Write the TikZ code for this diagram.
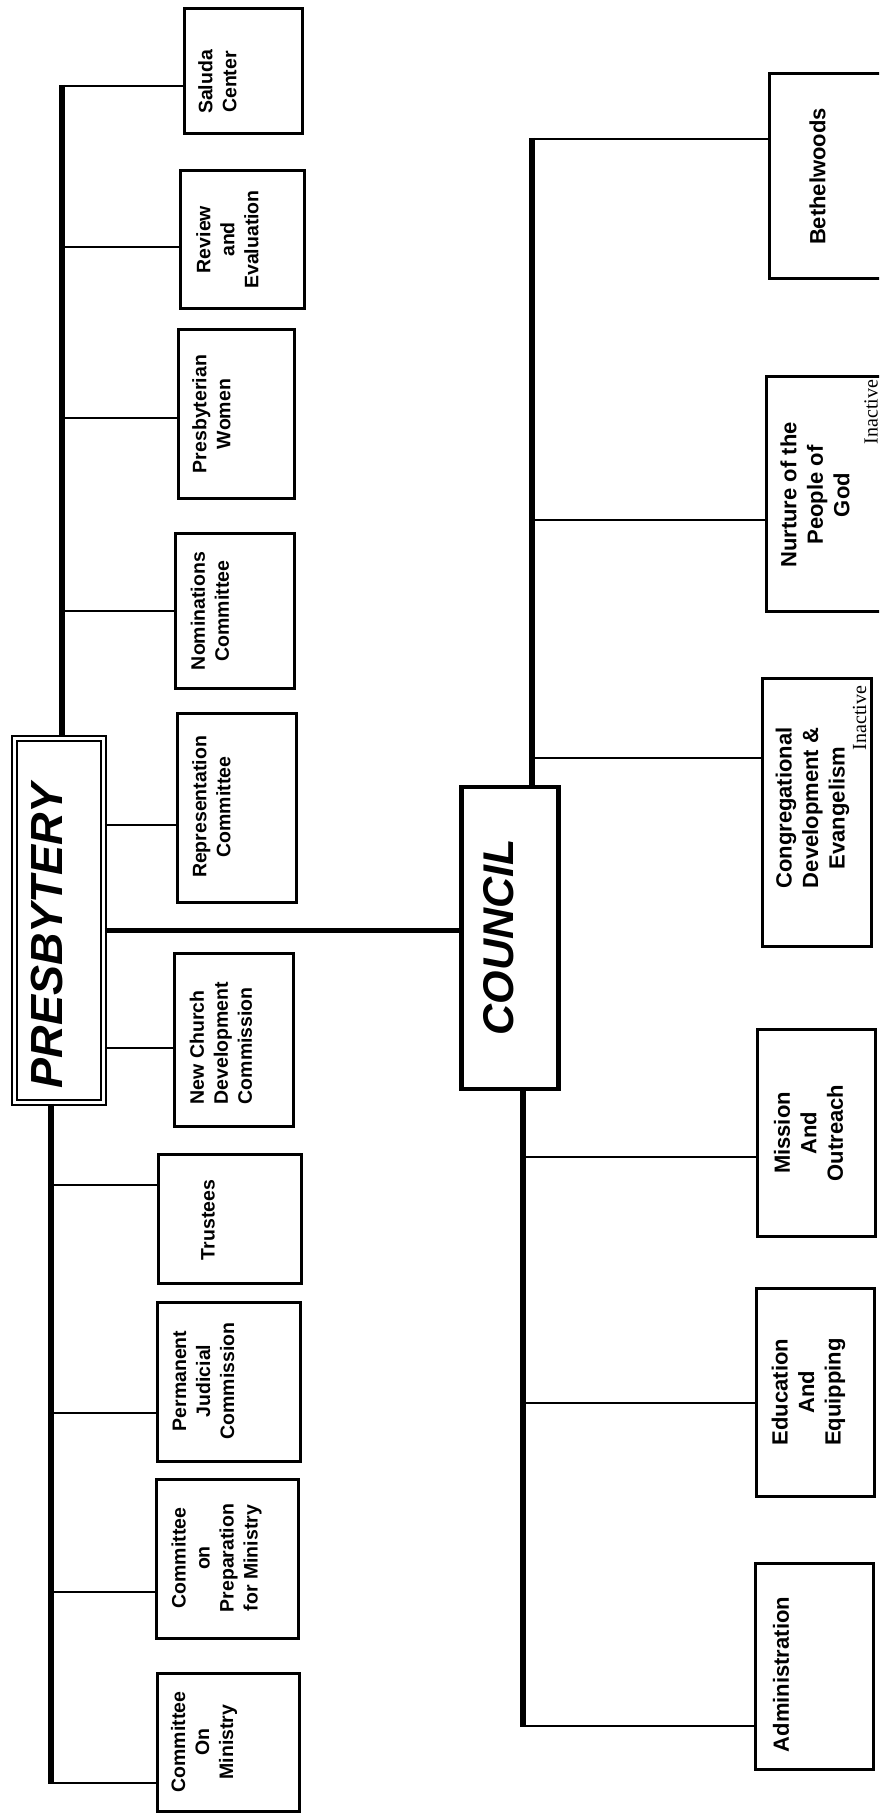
\documentclass[tikz,border=0pt]{standalone}
\usepackage{fontspec}
\setmainfont{Liberation Sans}
\newfontfamily\serifI{Liberation Serif}
\begin{document}
\begin{tikzpicture}[x=1pt,y=-1pt,
  box/.style={draw, line width=3pt, inner sep=0pt, rectangle},
  lblP/.style={rotate=90, align=center, inner sep=0pt, font=\fontsize{19.5}{24}\selectfont\bfseries},
  lblC/.style={rotate=90, align=center, inner sep=0pt, font=\fontsize{22}{26.5}\selectfont\bfseries},
  inact/.style={rotate=90, inner sep=0pt, font=\serifI\fontsize{20}{24}\selectfont},
  conn/.style={line width=2.5pt},
  spine/.style={line width=5.5pt},
  head/.style={rotate=90, inner sep=0pt, font=\bfseries\itshape}]
\useasboundingbox (0,0) rectangle (879,1818);
\clip (0,0) rectangle (879,1818);
\fill[white] (0,0) rectangle (879,1818);

% head boxes
\node[draw, line width=2.6pt, double, double distance=2.6pt, inner sep=0pt,
      minimum width=89pt, minimum height=364pt] (pres) at (59,920.5) {};
\node[head, font=\fontsize{45}{50}\selectfont\bfseries\itshape] (presT) at (47.5,936) {PRESBYTERY};
\node[draw, line width=4.5pt, inner sep=0pt, minimum width=97pt, minimum height=302pt] (coun) at (510,938) {};
\node[head, font=\fontsize{43}{48}\selectfont\bfseries\itshape] (counT) at (498.5,937.5) {COUNCIL};

% presbytery committees
\node[box, minimum width=118pt, minimum height=125pt] (sal) at (243.5,71) {};
\node[box, minimum width=124pt, minimum height=138pt] (rev) at (242.5,239.5) {};
\node[box, minimum width=116pt, minimum height=169pt] (pw) at (236.5,414) {};
\node[box, minimum width=119pt, minimum height=155pt] (nom) at (235,611) {};
\node[box, minimum width=119pt, minimum height=189pt] (rep) at (237,808) {};
\node[box, minimum width=119pt, minimum height=173pt] (ncd) at (234,1040) {};
\node[box, minimum width=143pt, minimum height=129pt] (tru) at (230,1219) {};
\node[box, minimum width=143pt, minimum height=159pt] (pjc) at (229,1382) {};
\node[box, minimum width=142pt, minimum height=159pt] (prep) at (227.5,1559) {};
\node[box, minimum width=142pt, minimum height=138pt] (com) at (228.5,1742.5) {};

\node[lblP] (salT) at (217.5,82) {Saluda\\Center};
\node[lblP] (revT) at (227.5,239.5) {Review\\and\\Evaluation};
\node[lblP] (pwT) at (211.5,414) {Presbyterian\\Women};
\node[lblP] (nomT) at (210,611) {Nominations\\Committee};
\node[lblP] (repT) at (211.5,807) {Representation\\Committee};
\node[lblP, align=left] (ncdT) at (221,1043) {New Church\\Development\\Commission};
\node[lblP] (truT) at (208,1220) {Trustees};
\node[lblP] (pjcT) at (203.5,1381) {Permanent\\Judicial\\Commission};
\node[lblP] (prepT) at (216.5,1558) {Committee\\on\\Preparation\\for Ministry};
\node[lblP] (comT) at (204,1742) {Committee\\On\\Ministry};

% council committees
\node[box, minimum width=118pt, minimum height=205pt] (beth) at (828.5,176) {};
\node[box, minimum width=120pt, minimum height=235pt] (nur) at (826.5,494) {};
\node[box, minimum width=109pt, minimum height=268pt] (cde) at (817,812.5) {};
\node[box, minimum width=118pt, minimum height=207pt] (mis) at (816.5,1133) {};
\node[box, minimum width=118pt, minimum height=208pt] (edu) at (815.5,1392.5) {};
\node[box, minimum width=118pt, minimum height=206pt] (adm) at (814.5,1666.5) {};

\node[lblC] (bethT) at (817.5,176.5) {Bethelwoods};
\node[lblC] (nurT) at (815,495) {Nurture of the\\People of\\God};
\node[lblC] (cdeT) at (812.5,808) {Congregational\\Development \&\\Evangelism};
\node[lblC] (misT) at (808.5,1133) {Mission\\And\\Outreach};
\node[lblC] (eduT) at (808.5,1392) {Education\\And\\Equipping};
\node[lblC] (admT) at (781,1674.5) {Administration};
\node[inact] (in1) at (871,412) {Inactive};
\node[inact] (in2) at (859.5,718) {Inactive};

% spine coordinates
\coordinate (pS1) at (62,86);
\coordinate (pS2) at (62,247);
\coordinate (pS3) at (62,418);
\coordinate (pS4) at (62,611);
\coordinate (pR1) at (0,825);
\coordinate (pR2) at (0,1048);
\coordinate (pL1) at (51,1185);
\coordinate (pL2) at (51,1413);
\coordinate (pL3) at (51,1592);
\coordinate (pL4) at (51,1783);
\coordinate (pc) at (0,930);
\coordinate (cU1) at (532,139);
\coordinate (cU2) at (532,520);
\coordinate (cU3) at (532,758);
\coordinate (cL1) at (523,1157);
\coordinate (cL2) at (523,1403);
\coordinate (cL3) at (523,1726);

% spines
\draw[spine] ([yshift=1.25pt]pS1) -- (pS1 |- pres.north);
\draw[spine] (pL1 |- pres.south) -- ([yshift=-1.25pt]pL4);
\draw[spine] ([yshift=1.25pt]cU1) -- (cU1 |- coun.north);
\draw[spine] (cL1 |- coun.south) -- ([yshift=-1.25pt]cL3);
\draw[line width=5pt] (pc -| pres.east) -- (pc -| coun.west);

% connectors
\draw[conn] (pS1) -- (pS1 -| sal.west);
\draw[conn] (pS2) -- (pS2 -| rev.west);
\draw[conn] (pS3) -- (pS3 -| pw.west);
\draw[conn] (pS4) -- (pS4 -| nom.west);
\draw[conn] (pR1 -| pres.east) -- (pR1 -| rep.west);
\draw[conn] (pR2 -| pres.east) -- (pR2 -| ncd.west);
\draw[conn] (pL1) -- (pL1 -| tru.west);
\draw[conn] (pL2) -- (pL2 -| pjc.west);
\draw[conn] (pL3) -- (pL3 -| prep.west);
\draw[conn] (pL4) -- (pL4 -| com.west);
\draw[conn] (cU1) -- (cU1 -| beth.west);
\draw[conn] (cU2) -- (cU2 -| nur.west);
\draw[conn] (cU3) -- (cU3 -| cde.west);
\draw[conn] (cL1) -- (cL1 -| mis.west);
\draw[conn] (cL2) -- (cL2 -| edu.west);
\draw[conn] (cL3) -- (cL3 -| adm.west);
\end{tikzpicture}
\end{document}
